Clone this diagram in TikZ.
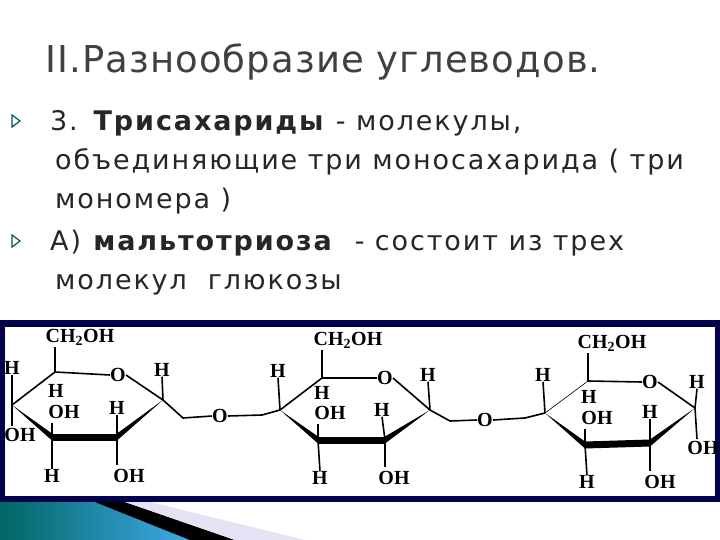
\documentclass[tikz,border=0pt]{standalone}
\usepackage{fontspec}
\setmainfont{DejaVu Sans}[LetterSpace=7]
\newfontfamily\titlef{DejaVu Sans}[LetterSpace=3]
\newfontfamily\chem{Liberation Serif}
\begin{document}
\begin{tikzpicture}[x=1pt,y=-1pt,
  txt/.style={anchor=base west,inner sep=0pt,font=\fontsize{27}{27}\selectfont,text=black!85},
  atm/.style={inner sep=0pt,font=\chem\bfseries\fontsize{20}{20}\selectfont},
  bond/.style={line width=1.6pt},
  bul/.style={draw=teal!70!black,line width=1.2pt,fill=white}]
\useasboundingbox (0,0) rectangle (720,540);
\fill[white] (0,0) rectangle (720,540);
% title and text
\node[txt,font=\titlef\fontsize{37}{37}\selectfont,text=black!75] (title) at (45,73) {II.Разнообразие углеводов.};
\draw[bul] (12,115) -- (20,121) -- (12,127) -- cycle;
\draw[bul] (12,235) -- (20,241) -- (12,247) -- cycle;
\node[txt] (l1) at (50,131) {3. \textbf{Трисахариды} - молекулы,};
\node[txt] (l2) at (55,170) {объединяющие три моносахарида ( три};
\node[txt] (l3) at (55,208) {мономера )};
\node[txt] (l4) at (50,250) {А) \textbf{мальтотриоза} \ - состоит из трех};
\node[txt] (l5) at (55,289) {молекул \ глюкозы};
% frame
\fill[blue!30!black] (0,320) rectangle (720,502);
\fill[white] (5,327) rectangle (715,496);
% bottom decoration
\shade[left color=teal!80!black,right color=cyan!60!blue!70] (0,502) -- (95,502) -- (230,540) -- (0,540) -- cycle;
\fill[black] (95,502) -- (125,502) -- (235,540) -- (190,540) -- cycle;
\fill[cyan!15!blue!10] (125,502) -- (150,502) -- (305,540) -- (235,540) -- cycle;
% ring 1
\coordinate (a5) at (55,372); \node[atm] (aO) at (118,375) {O};
\coordinate (a1) at (163,400); \coordinate (a2) at (117,437);
\coordinate (a3) at (52,437); \coordinate (a4) at (12,405);
\draw[bond] (a4) -- (a5) -- (aO.west); \draw[bond] (aO.east) -- (a1);
\fill (a4) -- (52,433.5) -- (52,440.5) -- cycle;
\fill (52,433.5) -- (117,433.5) -- (117,440.5) -- (52,440.5) -- cycle;
\fill (117,433.5) -- (a1) -- (117,440.5) -- cycle;
\node[atm] (aCH) at (80,337) {CH\textsubscript{2}OH};
\draw[bond] (a5) -- (55,347);
\node[atm] (aH4) at (12,368) {H}; \draw[bond] (a4) -- (aH4.south);
\node[atm] (aOH4) at (20,435) {OH}; \draw[bond] (a4) -- (12,426);
\node[atm] (aH5) at (56,391) {H};
\node[atm] (aOH3) at (64,412) {OH}; \draw[bond] (a3) -- (52,423);
\node[atm] (aH2) at (117,408) {H}; \draw[bond] (a2) -- (aH2.south);
\node[atm] (aH3) at (52,476) {H}; \draw[bond] (a3) -- (aH3.north);
\node[atm] (aOH2) at (129,476) {OH}; \draw[bond] (a2) -- (117,465);
\node[atm] (aH1) at (162,370) {H}; \draw[bond] (a1) -- (aH1.south);
% bridge 1
\node[atm] (b1) at (220,416) {O};
\draw[bond] (a1) -- (183,418) -- (b1.west);
% ring 2
\coordinate (c4) at (280,410); \coordinate (c5) at (322,378); \node[atm] (cO) at (385,378) {O};
\coordinate (c1) at (430,410); \coordinate (c2) at (385,440); \coordinate (c3) at (318,440);
\draw[bond] (b1.east) -- (262,415) -- (c4);
\draw[bond] (c4) -- (c5) -- (cO.west); \draw[bond] (cO.east) -- (c1);
\fill (c4) -- (318,436.5) -- (318,443.5) -- cycle;
\fill (318,436.5) -- (385,436.5) -- (385,443.5) -- (318,443.5) -- cycle;
\fill (385,436.5) -- (c1) -- (385,443.5) -- cycle;
\node[atm] (cCH) at (348,340) {CH\textsubscript{2}OH}; \draw[bond] (c5) -- (322,350);
\node[atm] (cH4) at (278,371) {H}; \draw[bond] (c4) -- (cH4.south);
\node[atm] (cH5) at (322,393) {H};
\node[atm] (cOH3) at (330,413) {OH}; \draw[bond] (c3) -- (318,424);
\node[atm] (cH2) at (382,410) {H}; \draw[bond] (c2) -- (cH2.south);
\node[atm] (cH3) at (320,478) {H}; \draw[bond] (c3) -- (cH3.north);
\node[atm] (cOH2) at (394,478) {OH}; \draw[bond] (c2) -- (385,467);
\node[atm] (cH1) at (428,375) {H}; \draw[bond] (c1) -- (cH1.south);
% bridge 2
\node[atm] (b2) at (485,420) {O};
\draw[bond] (c1) -- (450,421) -- (b2.west);
% ring 3
\coordinate (e4) at (545,413); \coordinate (e5) at (588,381); \node[atm] (eO) at (650,382) {O};
\coordinate (e1) at (695,408); \coordinate (e2) at (650,443); \coordinate (e3) at (585,445);
\draw[bond] (b2.east) -- (525,418) -- (e4);
\draw[line width=0.6pt] (e4) -- (e5); \draw[bond] (e5) -- (eO.west); \draw[bond] (eO.east) -- (e1);
\fill (e4) -- (585,441.5) -- (585,448.5) -- cycle;
\fill (585,441.5) -- (650,439.5) -- (650,446.5) -- (585,448.5) -- cycle;
\fill (650,439.5) -- (e1) -- (650,446.5) -- cycle;
\node[atm] (eCH) at (612,343) {CH\textsubscript{2}OH}; \draw[bond] (e5) -- (588,353);
\node[atm] (eH4) at (543,375) {H}; \draw[bond] (e4) -- (eH4.south);
\node[atm] (eH5) at (589,397) {H};
\node[atm] (eOH3) at (597,418) {OH}; \draw[bond] (e3) -- (585,429);
\node[atm] (eH2) at (650,412) {H}; \draw[bond] (e2) -- (eH2.south);
\node[atm] (eH3) at (587,482) {H}; \draw[bond] (e3) -- (eH3.north);
\node[atm] (eOH2) at (660,482) {OH}; \draw[bond] (e2) -- (650,471);
\node[atm] (eH1) at (697,382) {H}; \draw[bond] (e1) -- (eH1.south);
\node[atm] (eOH1) at (703,448) {OH}; \draw[bond] (e1) -- (697,439);
\end{tikzpicture}
\end{document}
